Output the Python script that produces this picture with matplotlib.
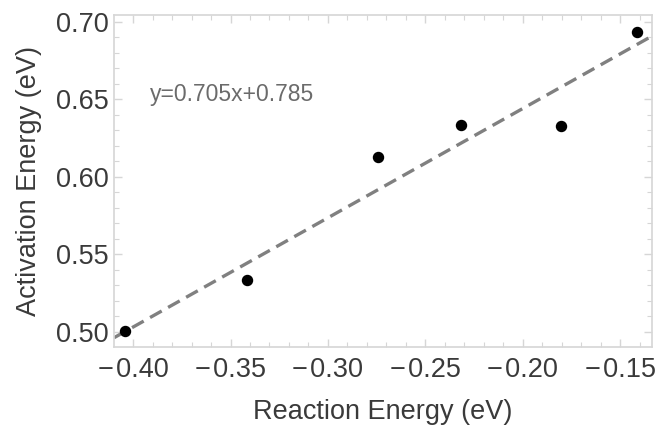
import matplotlib.pyplot as plt
import numpy as np
from matplotlib.ticker import MultipleLocator

plt.rcParams['font.family'] = ['Liberation Sans', 'DejaVu Sans']

# data
reaction_energy = [-0.4042, -0.3413, -0.2741, -0.2316, -0.1801, -0.1415]
activation_energy = [0.5006, 0.5332, 0.6127, 0.6335, 0.6325, 0.6932]
slope = 0.705
intercept = 0.785
xlim = (-0.4098, -0.1336)
ylim = (0.4901, 0.7044)

fig = plt.figure(figsize=(6.61, 4.26), dpi=100)
ax = fig.add_axes([0.1725, 0.1854, 0.8139, 0.7794])

xs = np.array(xlim)
ax.plot(xs, slope * xs + intercept, linestyle=(0, (4, 2.2)), color='#808080', linewidth=2.4, zorder=2)
ax.scatter(reaction_energy, activation_energy, s=52, color='black', zorder=3)

ax.text(-0.3915, 0.6532, 'y=0.705x+0.785', fontsize=16.5, color='#6b6b6b', va='center', ha='left')

ax.set_xlim(*xlim)
ax.set_ylim(*ylim)
ax.xaxis.set_major_locator(MultipleLocator(0.05))
ax.xaxis.set_minor_locator(MultipleLocator(0.01))
ax.yaxis.set_major_locator(MultipleLocator(0.05))
ax.yaxis.set_minor_locator(MultipleLocator(0.01))
ax.xaxis.set_major_formatter(lambda v, p: f'{v:.2f}'.replace('-', '\u2212\u200a'))
ax.yaxis.set_major_formatter(lambda v, p: f'{v:.2f}')

frame = '#d6d6d6'
for s in ax.spines.values():
    s.set_color(frame)
    s.set_linewidth(1.2)
ax.tick_params(which='both', direction='in', top=True, right=True, color=frame,
               labelcolor='#3a3a3a', labelsize=19.5)
ax.tick_params(which='major', length=6, width=1.0)
ax.tick_params(which='minor', length=3.5, width=0.8)
ax.tick_params(axis='x', which='major', pad=7)
ax.tick_params(axis='y', which='major', pad=4)

ax.set_xlabel('Reaction Energy (eV)', fontsize=19.5, color='#3a3a3a', labelpad=12)
ax.set_ylabel('Activation Energy (eV)', fontsize=19.5, color='#3a3a3a', labelpad=10)

fig.savefig('out.png', dpi=100)
